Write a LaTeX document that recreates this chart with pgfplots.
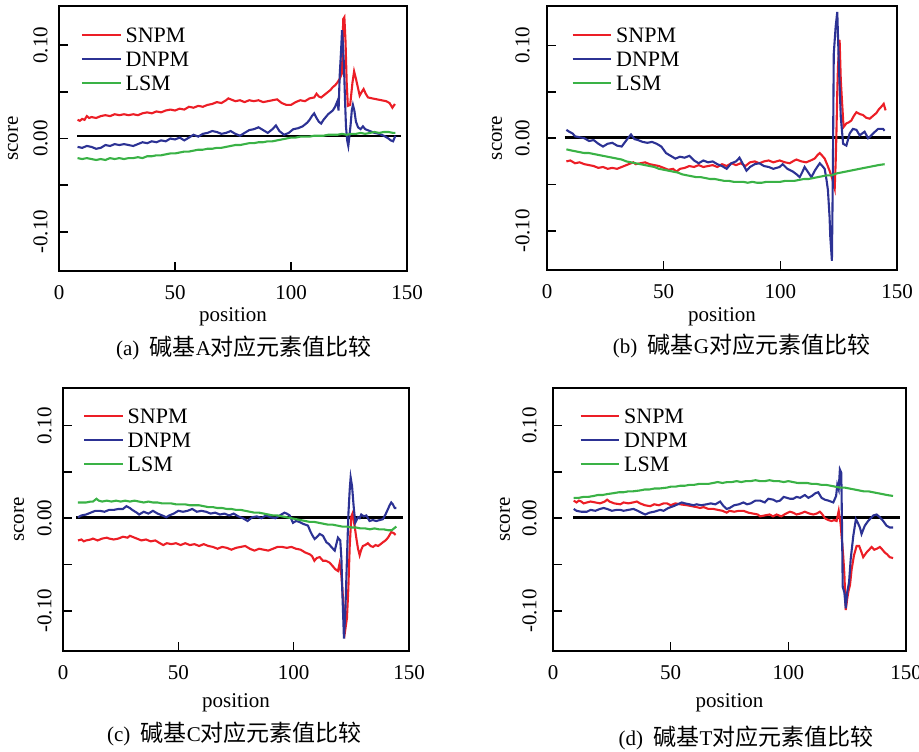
\documentclass[border=0pt]{standalone}
\usepackage{fontspec}
\setmainfont{Liberation Serif}
\newfontfamily\cjk{Noto Sans CJK SC}
\usepackage{pgfplots}
\pgfplotsset{compat=1.18}

\definecolor{snpm}{RGB}{236,30,38}
\definecolor{dnpm}{RGB}{44,50,148}
\definecolor{lsm}{RGB}{58,178,70}

\newcommand\cn[1]{{\cjk\fontsize{11.5}{13}\selectfont #1}}

\pgfplotsset{
  panel/.style={
    scale only axis,
    xmin=0, xmax=150,
    xtick={0,50,100,150}, xticklabels={0,50,100,150},
    ytick={-0.1,-0.05,0,0.05,0.1}, yticklabels={-0.10,,0.00,,0.10},
    tick align=inside, xtick pos=left, ytick pos=left,
    major tick length=4.5pt,
    every tick/.style={black, line width=0.8pt},
    axis line style={line width=1pt},
    tick label style={font=\fontsize{10.5}{12}\selectfont},
    label style={font=\fontsize{10.5}{12}\selectfont},
    xticklabel style={inner sep=0pt, yshift=-7pt},
    xlabel={position}, ylabel={score},
    legend style={draw=none, fill=none, anchor=north west, inner sep=0pt,
      font=\fontsize{11}{12}\selectfont, row sep=4.5pt, column sep=2pt,
      nodes={inner sep=0pt, text height=7.5pt, text depth=0pt}},
    legend image code/.code={\draw[#1, line width=1pt] (0pt,0pt) -- (19.3pt,0pt);},
    legend cell align=left,
    every axis plot/.append style={line width=1.05pt, no markers},
  },
}

\begin{document}
\begin{tikzpicture}
\useasboundingbox (0,0) rectangle (459.5pt,-375.5pt);

% (a) base A
\begin{axis}[panel, at={(29.5pt,-135.5pt)}, anchor=south west,
  width=174pt, height=132.5pt, ymin=-0.142, ymax=0.142,
  yticklabel style={inner sep=0pt, xshift=-5.5pt, rotate=90, anchor=south},
  xlabel style={at={(axis description cs:0.5,0)}, anchor=center, yshift=-23pt},
  ylabel style={at={(axis description cs:-0.132,0.5)}, anchor=center},
  legend style={at={(0.062,0.919)}}]
\addplot[black, line width=1.25pt, forget plot] coordinates {(7.9,0.0025)(147.6,0.0025)};
\addplot[snpm] coordinates {(8,0.020)(9,0.019)(10,0.021)(11,0.020)(12,0.024)(13,0.022)(14,0.023)(16,0.022)(18,0.024)(20,0.025)(22,0.024)(24,0.026)(26,0.025)(28,0.026)(30,0.025)(32,0.026)(34,0.025)(36,0.027)(38,0.028)(40,0.027)(42,0.029)(44,0.028)(46,0.030)(48,0.031)(50,0.030)(52,0.032)(54,0.031)(56,0.034)(58,0.033)(60,0.035)(62,0.034)(64,0.036)(66,0.037)(68,0.039)(70,0.038)(72,0.041)(73,0.043)(74,0.042)(76,0.040)(78,0.041)(80,0.039)(82,0.041)(84,0.040)(86,0.041)(88,0.039)(90,0.040)(92,0.041)(94,0.042)(96,0.038)(98,0.036)(100,0.036)(102,0.039)(104,0.041)(106,0.040)(108,0.043)(110,0.044)(111,0.048)(112,0.045)(113,0.044)(115,0.048)(117,0.052)(118,0.055)(119,0.057)(120,0.060)(121,0.064)(122,0.070)(122.5,0.128)(123,0.130)(123.5,0.104)(124,0.060)(124.5,0.035)(125.5,0.036)(126.5,0.060)(127.2,0.072)(128,0.064)(128.8,0.055)(129.6,0.046)(130.5,0.050)(131.3,0.053)(132.2,0.048)(133.2,0.044)(135,0.043)(137,0.042)(139,0.041)(141,0.040)(142.5,0.038)(143.7,0.033)(144.8,0.037)};
\addlegendentry{SNPM}
\addplot[dnpm] coordinates {(8,-0.009)(10,-0.010)(12,-0.008)(14,-0.009)(16,-0.011)(18,-0.010)(20,-0.007)(22,-0.008)(24,-0.006)(26,-0.007)(28,-0.006)(30,-0.007)(32,-0.008)(34,-0.006)(36,-0.004)(38,-0.005)(40,-0.003)(42,-0.004)(44,-0.002)(46,-0.003)(48,0.000)(50,-0.001)(52,0.001)(54,-0.002)(56,0.001)(58,0.004)(60,0.002)(62,0.005)(64,0.006)(66,0.008)(68,0.007)(70,0.005)(72,0.006)(74,0.008)(76,0.005)(78,0.003)(80,0.006)(82,0.009)(84,0.010)(86,0.012)(88,0.009)(90,0.006)(92,0.010)(93.5,0.014)(95,0.008)(97,0.004)(99,0.006)(101,0.010)(103,0.011)(105,0.013)(107,0.017)(108,0.020)(109,0.024)(110,0.027)(111,0.022)(112,0.018)(113,0.016)(114,0.020)(116,0.026)(118,0.030)(119,0.034)(120,0.040)(120.5,0.030)(121,0.068)(121.6,0.095)(122,0.116)(122.4,0.100)(122.8,0.080)(123.3,0.040)(123.7,0.013)(124.2,-0.002)(124.7,-0.008)(125.2,0.003)(125.7,0.015)(126.2,0.030)(126.7,0.036)(127.3,0.030)(128,0.018)(128.9,0.012)(130,0.010)(131,0.013)(132,0.010)(134,0.008)(136,0.006)(138,0.005)(140,0.003)(142,0.000)(143,-0.002)(144,-0.003)(145,0.003)};
\addlegendentry{DNPM}
\addplot[lsm] coordinates {(8,-0.021)(10,-0.022)(12,-0.021)(14,-0.022)(16,-0.023)(18,-0.022)(20,-0.023)(22,-0.021)(24,-0.022)(26,-0.021)(28,-0.022)(30,-0.021)(32,-0.021)(34,-0.020)(36,-0.021)(38,-0.019)(40,-0.019)(42,-0.018)(44,-0.018)(46,-0.017)(48,-0.016)(50,-0.016)(52,-0.015)(54,-0.014)(56,-0.014)(58,-0.013)(60,-0.012)(62,-0.012)(64,-0.011)(66,-0.011)(68,-0.010)(70,-0.010)(72,-0.009)(74,-0.008)(76,-0.007)(78,-0.007)(80,-0.006)(82,-0.005)(84,-0.005)(86,-0.004)(88,-0.004)(90,-0.003)(92,-0.003)(94,-0.002)(96,-0.001)(98,0.000)(100,0.001)(102,0.001)(104,0.002)(106,0.002)(108,0.002)(110,0.003)(112,0.003)(114,0.003)(116,0.004)(118,0.004)(120,0.004)(122,0.005)(124,0.004)(126,0.005)(128,0.005)(130,0.006)(132,0.005)(134,0.006)(136,0.007)(138,0.006)(140,0.007)(142,0.007)(144,0.006)(145,0.006)};
\addlegendentry{LSM}
\end{axis}

% (b) base G
\begin{axis}[panel, at={(273.5pt,-135pt)}, anchor=south west,
  width=175pt, height=132pt, ymin=-0.142, ymax=0.1424,
  yticklabel style={inner sep=0pt, xshift=-8.5pt, rotate=90, anchor=south},
  xlabel style={at={(axis description cs:0.5,0)}, anchor=center, yshift=-23.5pt},
  ylabel style={at={(axis description cs:-0.143,0.5)}, anchor=center},
  legend style={at={(0.069,0.919)}}]
\addplot[black, line width=1.25pt, forget plot] coordinates {(7.6,0.001)(147.6,0.001)};
\addplot[snpm] coordinates {(8.3,-0.025)(10,-0.024)(12,-0.027)(14,-0.026)(16,-0.028)(18,-0.029)(20,-0.030)(22,-0.032)(24,-0.031)(26,-0.033)(28,-0.032)(30,-0.033)(32,-0.031)(34,-0.029)(36,-0.027)(37,-0.026)(38,-0.028)(40,-0.027)(42,-0.026)(44,-0.028)(46,-0.029)(48,-0.030)(50,-0.032)(52,-0.034)(54,-0.033)(55.5,-0.036)(57,-0.033)(59,-0.032)(61,-0.030)(63,-0.031)(65,-0.029)(67,-0.031)(69,-0.030)(71,-0.029)(73,-0.031)(75,-0.028)(77,-0.030)(79,-0.027)(81,-0.029)(83,-0.027)(85,-0.030)(87,-0.026)(89,-0.025)(91,-0.027)(93,-0.025)(95,-0.024)(97,-0.026)(99.7,-0.024)(102,-0.026)(104,-0.027)(106,-0.024)(106.9,-0.023)(109,-0.025)(111.1,-0.026)(113,-0.024)(114.7,-0.022)(116,-0.018)(116.9,-0.016)(118,-0.019)(119,-0.022)(120,-0.028)(121.1,-0.035)(122.3,-0.044)(123.3,-0.054)(123.7,-0.027)(124,0.001)(124.4,0.050)(124.7,0.077)(125.4,0.106)(125.9,0.063)(126.4,0.041)(127.1,0.012)(128.3,0.016)(129.3,0.017)(130.4,0.019)(131.5,0.024)(132.6,0.028)(134,0.026)(135.4,0.025)(136.8,0.022)(138.3,0.021)(139.7,0.024)(141.1,0.027)(142.2,0.031)(143.3,0.034)(144.3,0.037)(145.1,0.030)};
\addlegendentry{SNPM}
\addplot[dnpm] coordinates {(8.3,0.009)(9.5,0.007)(11,0.005)(12,0.002)(14,0.001)(16,0.000)(18,-0.003)(20,-0.002)(22,-0.006)(24,-0.009)(26,-0.006)(28,-0.005)(30,-0.008)(32,-0.009)(33.5,-0.004)(35,0.001)(36,0.004)(37.5,-0.001)(39,-0.002)(41,-0.004)(43,-0.005)(45,-0.004)(47,-0.006)(49,-0.009)(51,-0.016)(53,-0.019)(55,-0.022)(57,-0.020)(59,-0.021)(61,-0.019)(63,-0.024)(65,-0.027)(67,-0.024)(69,-0.026)(71,-0.025)(73,-0.028)(75,-0.030)(77,-0.033)(79,-0.027)(81,-0.025)(82.5,-0.021)(84,-0.028)(85.5,-0.035)(87,-0.031)(89,-0.028)(91,-0.027)(93,-0.030)(95,-0.031)(97,-0.033)(99.7,-0.031)(101,-0.028)(103,-0.033)(105.4,-0.036)(107,-0.039)(108.3,-0.042)(109.5,-0.036)(110.4,-0.031)(112,-0.037)(113.3,-0.042)(115,-0.034)(116.9,-0.027)(118,-0.030)(119,-0.033)(119.8,-0.045)(120.4,-0.056)(121.1,-0.085)(121.4,-0.106)(122.1,-0.132)(122.5,-0.040)(122.9,0.091)(123.7,0.120)(124.4,0.136)(125.1,0.077)(125.9,0.023)(126.9,-0.006)(128.3,-0.008)(129.7,0.005)(131.1,0.010)(132.6,0.009)(134,0.003)(135,0.005)(136.1,0.007)(137.6,0.000)(138.6,0.002)(139.7,0.005)(141.9,0.010)(144,0.010)(144.7,0.008)};
\addlegendentry{DNPM}
\addplot[lsm] coordinates {(8.3,-0.012)(10,-0.013)(12,-0.014)(14,-0.015)(16,-0.016)(18,-0.016)(20,-0.017)(22,-0.018)(24,-0.019)(26,-0.020)(28,-0.021)(30,-0.022)(32,-0.023)(34,-0.025)(36,-0.026)(38,-0.027)(40,-0.028)(42,-0.029)(44,-0.030)(46,-0.031)(48,-0.033)(50,-0.034)(52,-0.035)(54,-0.036)(56,-0.037)(58,-0.039)(60,-0.040)(62,-0.041)(64,-0.042)(66,-0.042)(68,-0.043)(70,-0.044)(72,-0.044)(74,-0.045)(76,-0.046)(78,-0.046)(80,-0.047)(82,-0.047)(84,-0.047)(86,-0.048)(88,-0.047)(90,-0.048)(92,-0.048)(94,-0.047)(96,-0.047)(98,-0.047)(100,-0.047)(102,-0.046)(104,-0.046)(106,-0.046)(108,-0.045)(110,-0.044)(112,-0.044)(114,-0.043)(116,-0.042)(118,-0.041)(120,-0.040)(122,-0.040)(124,-0.038)(126,-0.037)(128,-0.036)(130,-0.035)(132,-0.034)(134,-0.033)(136,-0.032)(138,-0.031)(140,-0.030)(142,-0.029)(144.7,-0.028)};
\addlegendentry{LSM}
\end{axis}

% (c) base C
\begin{axis}[panel, at={(31.5pt,-325.5pt)}, anchor=south west,
  width=173pt, height=131.5pt, ymin=-0.1435, ymax=0.1407,
  yticklabel style={inner sep=0pt, xshift=-5.5pt, rotate=90, anchor=south},
  xlabel style={at={(axis description cs:0.5,0)}, anchor=center, yshift=-26pt},
  ylabel style={at={(axis description cs:-0.127,0.5)}, anchor=center},
  legend style={at={(0.057,0.924)}}]
\addplot[black, line width=1.25pt, forget plot] coordinates {(5.8,0.0007)(147.4,0.0007)};
\addplot[snpm] coordinates {(6.5,-0.024)(8,-0.023)(9,-0.025)(10,-0.024)(12,-0.023)(13,-0.022)(15,-0.024)(17,-0.022)(19,-0.021)(20,-0.022)(22,-0.023)(24,-0.022)(26,-0.020)(28,-0.021)(29,-0.019)(30,-0.020)(32,-0.022)(34,-0.024)(36,-0.023)(38,-0.025)(40,-0.024)(42,-0.027)(43.5,-0.029)(45,-0.027)(47,-0.028)(49,-0.027)(51,-0.029)(53,-0.027)(55,-0.029)(57,-0.028)(59,-0.030)(61,-0.028)(63,-0.030)(65,-0.031)(67,-0.033)(69,-0.031)(71,-0.032)(73,-0.034)(75,-0.032)(77,-0.031)(79,-0.030)(81,-0.033)(83,-0.035)(85,-0.033)(87,-0.034)(89,-0.035)(91,-0.033)(93,-0.031)(95,-0.031)(97,-0.032)(99,-0.031)(101,-0.033)(103,-0.034)(105,-0.037)(107,-0.039)(108,-0.041)(109,-0.046)(110,-0.043)(111.3,-0.042)(112.7,-0.046)(114,-0.046)(115.6,-0.048)(117,-0.052)(118,-0.055)(119.2,-0.057)(119.9,-0.049)(120.7,-0.062)(121.4,-0.087)(122.4,-0.120)(123.1,-0.108)(123.7,-0.076)(124.3,-0.030)(125,0.002)(125.5,0.005)(126,-0.002)(126.4,-0.008)(127.2,-0.022)(127.9,-0.033)(128.6,-0.040)(129.3,-0.034)(130,-0.030)(131,-0.029)(132.2,-0.027)(133.3,-0.030)(134.4,-0.031)(135.5,-0.029)(136.6,-0.030)(137.7,-0.028)(138.7,-0.026)(139.8,-0.024)(140.9,-0.021)(141.6,-0.018)(142.3,-0.015)(143.3,-0.016)(144.2,-0.018)};
\addlegendentry{SNPM}
\addplot[dnpm] coordinates {(6.5,0.001)(8,0.003)(10,0.004)(12,0.006)(14,0.008)(16,0.008)(18,0.007)(20,0.009)(22,0.009)(24,0.010)(26,0.010)(27.5,0.013)(29,0.011)(30,0.009)(32,0.006)(33,0.004)(35,0.007)(37,0.005)(39,0.008)(41,0.005)(43,0.003)(44.8,0.001)(46,0.003)(48,0.005)(50,0.008)(52,0.007)(54,0.008)(56,0.010)(58,0.007)(60,0.008)(62,0.007)(64,0.005)(66,0.006)(68,0.004)(70,0.005)(72,0.003)(74,0.005)(76,0.002)(78,0.000)(80,-0.003)(82,0.001)(84,0.002)(86,0.000)(88,0.003)(90,0.001)(92,0.000)(94,0.003)(96,0.006)(97,0.005)(98.3,0.003)(99.7,-0.005)(101,-0.003)(102.5,-0.004)(104,-0.006)(106.2,-0.008)(107.2,-0.014)(108,-0.018)(109.1,-0.0225)(110.2,-0.020)(111.3,-0.017)(112.7,-0.019)(114.2,-0.026)(115.3,-0.028)(116.3,-0.031)(117.8,-0.035)(118.5,-0.028)(119.2,-0.021)(120.2,-0.024)(120.7,-0.044)(121.1,-0.080)(121.8,-0.130)(122.4,-0.101)(123.1,-0.044)(123.7,0.003)(124.3,0.031)(124.7,0.044)(125.3,0.035)(126,0.013)(126.7,-0.005)(127.3,-0.002)(127.9,0.001)(128.6,0.000)(129.3,0.004)(130.4,0.002)(131.5,0.003)(132.2,0.000)(132.9,-0.003)(134.3,-0.002)(135.8,-0.003)(137.3,-0.002)(138.7,-0.001)(139.8,0.004)(140.9,0.010)(141.6,0.014)(142.3,0.017)(143,0.015)(143.8,0.011)(144.5,0.011)};
\addlegendentry{DNPM}
\addplot[lsm] coordinates {(6.5,0.017)(8,0.017)(10,0.017)(12,0.018)(13,0.018)(14.5,0.021)(15.5,0.019)(17,0.018)(19,0.019)(21,0.018)(23,0.019)(25,0.018)(27,0.019)(29,0.018)(31,0.019)(33,0.018)(35,0.017)(37,0.018)(39,0.017)(41,0.017)(43,0.016)(45,0.016)(47,0.016)(49,0.015)(51,0.015)(53,0.015)(55,0.014)(57,0.014)(59,0.014)(61,0.013)(63,0.012)(65,0.012)(67,0.011)(69,0.011)(71,0.010)(73,0.010)(75,0.009)(77,0.009)(79,0.008)(81,0.007)(83,0.006)(85,0.006)(87,0.005)(89,0.004)(91,0.003)(93,0.003)(95,0.002)(97,0.001)(99,0.000)(101,-0.001)(103,-0.002)(105,-0.003)(107,-0.004)(109,-0.004)(111,-0.005)(113,-0.006)(115,-0.007)(117,-0.007)(119,-0.008)(121,-0.009)(123,-0.009)(125,-0.010)(127,-0.010)(129,-0.011)(131,-0.011)(133,-0.012)(135,-0.011)(137,-0.012)(139,-0.012)(141,-0.013)(142.5,-0.013)(143.5,-0.011)(144.5,-0.009)};
\addlegendentry{LSM}
\end{axis}

% (d) base T
\begin{axis}[panel, at={(276.5pt,-325.5pt)}, anchor=south west,
  width=176.5pt, height=131.5pt, ymin=-0.1432, ymax=0.1404,
  yticklabel style={inner sep=0pt, xshift=-8pt, rotate=90, anchor=south},
  xlabel style={at={(axis description cs:0.5,0)}, anchor=center, yshift=-26pt},
  ylabel style={at={(axis description cs:-0.136,0.5)}, anchor=center},
  legend style={at={(0.074,0.924)}}]
\addplot[black, line width=1.25pt, forget plot] coordinates {(8.5,0.0007)(147.4,0.0007)};
\addplot[snpm] coordinates {(8.8,0.019)(10,0.017)(11,0.019)(12,0.018)(13,0.016)(14.4,0.017)(16,0.018)(18,0.017)(20,0.016)(22,0.018)(23,0.020)(24,0.018)(26,0.016)(28.6,0.015)(30,0.017)(32,0.016)(34,0.017)(35.6,0.018)(37,0.016)(39,0.014)(41.3,0.013)(43,0.015)(45,0.014)(47,0.016)(48.4,0.016)(50,0.014)(52,0.016)(54,0.015)(56.9,0.014)(59,0.013)(61,0.012)(62.5,0.011)(64,0.012)(66,0.010)(68.2,0.010)(70,0.009)(72,0.008)(73.8,0.006)(75,0.008)(77,0.007)(79,0.008)(80.9,0.008)(83,0.006)(85,0.005)(87,0.004)(88,0.002)(90,0.003)(92,0.004)(93.5,0.002)(95,0.004)(97,0.002)(99,0.005)(100.7,0.007)(102,0.006)(103.5,0.004)(105,0.005)(107,0.007)(109,0.005)(110.6,0.004)(112,0.005)(113.4,0.007)(114.5,0.004)(115.5,0.000)(117,-0.002)(118.3,-0.003)(119.5,-0.002)(120.5,-0.003)(121.4,0.008)(122.2,-0.006)(122.8,-0.025)(123.3,-0.040)(123.8,-0.060)(124.4,-0.099)(125,-0.087)(125.6,-0.078)(126.2,-0.072)(126.9,-0.055)(127.9,-0.040)(129,-0.030)(130.1,-0.030)(131,-0.036)(131.8,-0.042)(133.2,-0.037)(134.3,-0.034)(135.4,-0.031)(136.5,-0.034)(137.5,-0.033)(138.9,-0.031)(140,-0.034)(141,-0.037)(142,-0.039)(143.1,-0.042)(144.5,-0.043)};
\addlegendentry{SNPM}
\addplot[dnpm] coordinates {(8.8,0.010)(10,0.008)(12,0.007)(14.4,0.007)(16,0.009)(18,0.008)(20,0.010)(21.5,0.011)(23,0.010)(25,0.008)(27,0.009)(28.6,0.009)(30,0.008)(32,0.009)(34.2,0.010)(36,0.008)(37.5,0.006)(39.2,0.004)(41,0.006)(43,0.007)(45.5,0.009)(47,0.008)(49,0.011)(51.2,0.013)(53,0.015)(54.7,0.017)(56,0.016)(58,0.015)(59.7,0.014)(61,0.015)(63,0.014)(65.3,0.015)(67,0.016)(69,0.015)(71,0.018)(72.5,0.013)(73.8,0.010)(75,0.011)(77,0.014)(79,0.015)(80.9,0.017)(82.5,0.015)(84,0.016)(86,0.019)(88,0.019)(90,0.017)(91.5,0.021)(93.6,0.020)(95,0.018)(96.5,0.019)(98,0.023)(100.7,0.021)(102.1,0.021)(103.5,0.023)(105,0.022)(107,0.025)(108.5,0.022)(110,0.024)(111.5,0.027)(112.7,0.028)(114.1,0.022)(115.5,0.020)(117,0.019)(119.1,0.017)(120.3,0.024)(120.8,0.036)(121.4,0.031)(121.9,0.0525)(122.5,0.049)(122.8,-0.008)(123.1,-0.074)(123.8,-0.080)(124.4,-0.097)(125,-0.080)(125.8,-0.069)(126.5,-0.044)(127.6,-0.019)(128.7,-0.001)(129.7,-0.006)(130.4,-0.010)(131.1,-0.017)(132.5,-0.008)(133.9,-0.003)(135,0.000)(136.1,0.003)(137.5,0.004)(138.9,0.001)(140.3,-0.003)(141.7,-0.008)(143.1,-0.010)(144.5,-0.010)};
\addlegendentry{DNPM}
\addplot[lsm] coordinates {(8.8,0.022)(11,0.022)(13,0.023)(15,0.023)(17.3,0.024)(19,0.025)(21,0.025)(23,0.026)(25.7,0.027)(28,0.028)(30,0.028)(32,0.029)(34,0.029)(37.1,0.030)(39,0.031)(41,0.031)(43,0.032)(45,0.032)(48.4,0.033)(50,0.034)(52,0.034)(54,0.035)(56,0.035)(58,0.036)(60,0.036)(62,0.037)(64,0.037)(66,0.037)(68,0.038)(70,0.039)(72,0.038)(74,0.039)(76,0.039)(78,0.040)(80,0.039)(82,0.040)(84,0.040)(86,0.041)(88,0.040)(90,0.040)(92,0.041)(94,0.040)(96,0.040)(98,0.039)(100,0.040)(102,0.039)(104,0.038)(106,0.038)(108,0.038)(110,0.037)(112,0.037)(114,0.036)(116,0.036)(118,0.035)(120,0.034)(122,0.033)(124,0.033)(126,0.032)(128,0.031)(130,0.030)(132,0.029)(134,0.029)(136,0.028)(138,0.027)(140,0.026)(142,0.025)(144.5,0.024)};
\addlegendentry{LSM}
\end{axis}

\node[font=\fontsize{10.5}{12}\selectfont] at (122pt,-174pt) {(a)\ \ \cn{碱基}A\cn{对应元素值比较}};
\node[font=\fontsize{10.5}{12}\selectfont] at (370.75pt,-173pt) {(b)\ \ \cn{碱基}G\cn{对应元素值比较}};
\node[font=\fontsize{10.5}{12}\selectfont] at (117.25pt,-367pt) {(c)\ \ \cn{碱基}C\cn{对应元素值比较}};
\node[font=\fontsize{10.5}{12}\selectfont] at (373pt,-368.75pt) {(d)\ \ \cn{碱基}T\cn{对应元素值比较}};
\end{tikzpicture}
\end{document}
